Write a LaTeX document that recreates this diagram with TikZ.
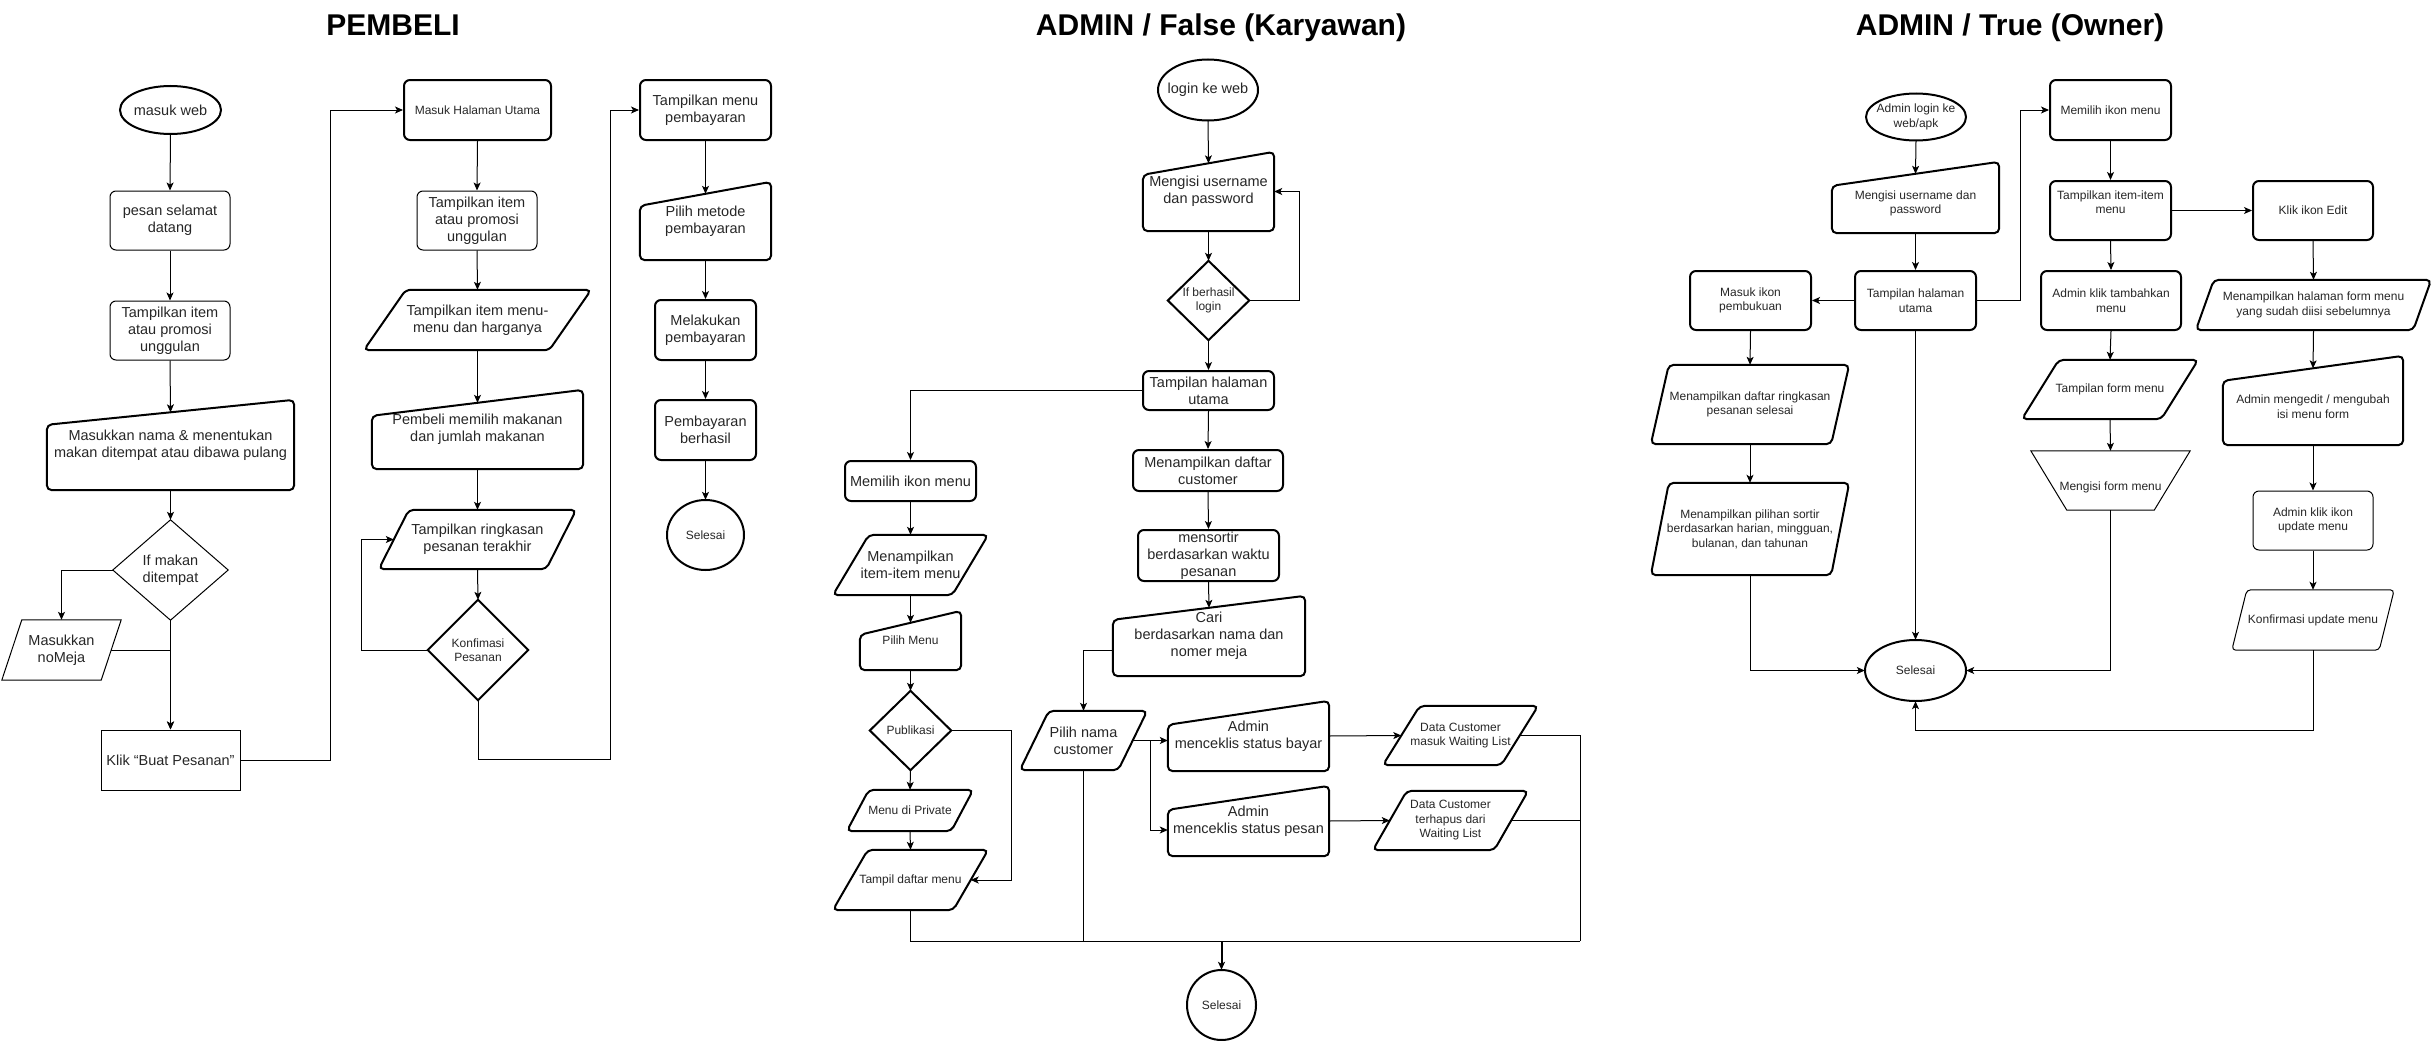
\documentclass[tikz,border=0pt]{standalone}
\usepackage{fontspec}
\setmainfont{Liberation Sans}
\usetikzlibrary{arrows.meta,calc}
\newcommand\shpPG[3][]{\draw[#1] ([xshift=#3]#2.north west) -- (#2.north east) -- ([xshift=-#3]#2.south east) -- (#2.south west) -- cycle;}
\newcommand\shpMI[3][]{\draw[#1] ([yshift=-#3]#2.north west) -- (#2.north east) -- (#2.south east) -- (#2.south west) -- cycle;}
\newcommand\shpMO[3][]{\draw[#1] (#2.north west) -- (#2.north east) -- ([xshift=-#3]#2.south east) -- ([xshift=#3]#2.south west) -- cycle;}
\newcommand\shpDM[2][]{\draw[#1] (#2.north) -- (#2.east) -- (#2.south) -- (#2.west) -- cycle;}
\begin{document}
\begin{tikzpicture}[x=1pt,y=-1pt,
  txt/.style={draw=none, inner sep=0pt, align=center, text=black!85, font=\fontsize{14.5}{17}\selectfont},
  sm/.style={font=\fontsize{12}{14.5}\selectfont},
  wh/.style 2 args={minimum width=#1pt, minimum height=#2pt},
  thk/.style={line width=2pt, rounded corners=5pt},
  thn/.style={line width=1pt, rounded corners=4pt},
  dmk/.style={line width=2pt},
  dmn/.style={line width=1pt},
  rb/.style={txt, rounded corners=6pt, line width=2pt, draw=black},
  rbt/.style={txt, rounded corners=6pt, line width=1pt, draw=black},
  conn/.style={line width=1pt, -{Stealth[length=8pt,width=7pt,inset=2pt]}},
  ln/.style={line width=1pt},
  ttl/.style={inner sep=0pt, anchor=base, font=\fontsize{30}{34}\selectfont\bfseries}
]
\useasboundingbox (0,0) rectangle (2433,1041);

% titles
\node[ttl] (t1) at (393,35.5) {PEMBELI};
\node[ttl] (t2) at (1221,35.5) {ADMIN / False (Karyawan)};
\node[ttl] (t3) at (2010,35.5) {ADMIN / True (Owner)};

% ================= PEMBELI =================
\node[txt, wh={101}{48}] (p1) at (170.5,110) {masuk web};
\draw[thk] (p1.center) ellipse [x radius=50.5pt, y radius=24pt];
\node[rbt, wh={120}{59}] (p2) at (170,220.5) {pesan selamat\\datang};
\node[rbt, wh={120}{59}] (p3) at (170,330.5) {Tampilkan item\\atau promosi\\unggulan};
\node[txt, wh={247}{90}] (p4) at (170.5,445) {Masukkan nama \& menentukan\\makan ditempat atau dibawa pulang};
\shpMI[thk]{p4}{25pt}
\node[txt, wh={115}{100}] (p5) at (170.5,570) {If makan\\ditempat};
\shpDM[dmn]{p5}
\node[txt, wh={119}{60}] (p6) at (61.5,650) {Masukkan\\noMeja};
\shpPG[dmn]{p6}{20pt}
\node[txt, draw, line width=1pt, wh={139}{60}] (p7) at (170.5,760) {Klik “Buat Pesanan”};

\node[rb, sm, wh={147}{60}] (p8) at (477.5,110) {Masuk Halaman Utama};
\node[rbt, wh={120}{59}] (p9) at (477,220.5) {Tampilkan item\\atau promosi\\unggulan};
\node[txt, wh={227}{60}] (p10) at (477.5,320) {Tampilkan item menu-\\menu dan harganya};
\shpPG[thk]{p10}{42pt}
\node[txt, wh={211}{79}] (p11) at (477.5,429.5) {Pembeli memilih makanan\\dan jumlah makanan};
\shpMI[thk]{p11}{26pt}
\node[txt, wh={197}{59}] (p12) at (477.5,539.5) {Tampilkan ringkasan\\pesanan terakhir};
\shpPG[thk]{p12}{30pt}
\node[txt, sm, wh={100}{100}] (p13) at (478,650) {Konfimasi\\Pesanan};
\shpDM[dmk]{p13}
\node[rb, wh={131}{60}] (p14) at (705.5,110) {Tampilkan menu\\pembayaran};
\node[txt, wh={131}{78}] (p15) at (705.5,221) {Pilih metode\\pembayaran};
\shpMI[thk]{p15}{24pt}
\node[rb, wh={101}{60}] (p16) at (705.5,330) {Melakukan\\pembayaran};
\node[rb, wh={101}{60}] (p17) at (705.5,430) {Pembayaran\\berhasil};
\node[txt, sm, wh={77}{70}] (p18) at (705.5,535) {Selesai};
\draw[thk] (p18.center) ellipse [x radius=38.5pt, y radius=35pt];

\draw[conn] (p1.south) -- (p2.north);
\draw[conn] (p2.south) -- (p3.north);
\draw[conn] (p3.south) -- ([yshift=-12.5pt]p4.north);
\draw[conn] (p4.south) -- (p5.north);
\draw[conn] (p5.west) -| (p6.north);
\draw[conn] (p5.south) -- (p7.north);
\draw[conn] ([xshift=-10pt]p6.east) -| (p7.north);
\draw[conn] (p7.east) -- (330,760) |- (p8.west);
\draw[conn] (p8.south) -- (p9.north);
\draw[conn] (p9.south) -- (p10.north);
\draw[conn] (p10.south) -- ([yshift=-13pt]p11.north);
\draw[conn] (p11.south) -- (p12.north);
\draw[conn] (p12.south) -- (p13.north);
\draw[conn] (p13.west) -- (361,650) |- ([xshift=15pt]p12.west);
\draw[conn] (p13.south) |- (610,759) |- (p14.west);
\draw[conn] (p14.south) -- ([yshift=-12pt]p15.north);
\draw[conn] (p15.south) -- (p16.north);
\draw[conn] (p16.south) -- (p17.north);
\draw[conn] (p17.south) -- (p18.north);

% ================= KARYAWAN =================
\node[txt, wh={100}{61}] (k1) at (1208,90) {login ke web};
\draw[thk] (k1.center) ellipse [x radius=50pt, y radius=30.5pt];
\node[txt, wh={131}{79}] (k2) at (1208.5,191.5) {Mengisi username\\dan password};
\shpMI[thk]{k2}{23pt}
\node[txt, sm, wh={81}{79}] (k3) at (1208.5,300.5) {If berhasil\\login};
\shpDM[dmk]{k3}
\node[rb, wh={131}{39}] (k4) at (1208.5,390.5) {Tampilan halaman\\utama};
\node[rb, wh={131}{40}] (k5) at (910.5,481) {Memilih ikon menu};
\node[txt, wh={155}{60}] (k6) at (910.5,565) {Menampilkan\\item-item menu};
\shpPG[thk]{k6}{36pt}
\node[txt, sm, wh={101}{59}] (k7) at (910.5,640.5) {Pilih Menu};
\shpMI[thk]{k7}{24pt}
\node[txt, sm, wh={81}{79}] (k8) at (910.5,730.5) {Publikasi};
\shpDM[dmk]{k8}
\node[txt, sm, wh={126}{41}] (k9) at (910,810.5) {Menu di Private};
\shpPG[thk]{k9}{22pt}
\node[txt, sm, wh={155}{60}] (k10) at (910.5,880) {Tampil daftar menu};
\shpPG[thk]{k10}{35pt}
\node[rb, wh={150}{41}] (k11) at (1208,470.5) {Menampilkan daftar\\customer};
\node[rb, wh={141}{51}] (k12) at (1208.5,555.5) {mensortir\\berdasarkan waktu\\pesanan};
\node[txt, wh={192}{80}] (k13) at (1209,636) {Cari\\berdasarkan nama dan\\nomer meja};
\shpMI[thk]{k13}{24pt}
\node[txt, wh={127}{59}] (k14) at (1083.5,740.5) {Pilih nama\\customer};
\shpPG[thk]{k14}{29pt}
\node[txt, wh={161}{70}] (k15) at (1248.5,736) {Admin\\menceklis status bayar};
\shpMI[thk]{k15}{24pt}
\node[txt, wh={161}{70}] (k16) at (1248.5,821) {Admin\\menceklis status pesan};
\shpMI[thk]{k16}{24pt}
\node[txt, sm, wh={155}{59}] (k17) at (1460.5,735.5) {Data Customer\\masuk Waiting List};
\shpPG[thk]{k17}{37pt}
\node[txt, sm, wh={155}{59}] (k18) at (1450.5,820.5) {Data Customer\\terhapus dari\\Waiting List};
\shpPG[thk]{k18}{34pt}
\node[txt, sm, wh={69}{70}] (k19) at (1221.5,1005) {Selesai};
\draw[thk] (k19.center) ellipse [x radius=34.5pt, y radius=35pt];
\coordinate (j1) at (1150,740.5);
\coordinate (bus) at (1221.5,941);

\draw[conn] (k1.south) -- ([yshift=-11.5pt]k2.north);
\draw[conn] (k2.south) -- (k3.north);
\draw[conn] (k3.east) -- (1299,300.5) |- (k2.east);
\draw[conn] (k3.south) -- (k4.north);
\draw[conn] (k4.west) -| (k5.north);
\draw[conn] (k5.south) -- (k6.north);
\draw[conn] (k6.south) -- ([yshift=-12pt]k7.north);
\draw[conn] (k7.south) -- (k8.north);
\draw[conn] (k8.south) -- (k9.north);
\draw[conn] (k9.south) -- (k10.north);
\draw[conn] (k8.east) -- (1011,730.5) |- ([xshift=-17.5pt]k10.east);
\draw[conn] (k4.south) -- (k11.north);
\draw[conn] (k11.south) -- (k12.north);
\draw[conn] (k12.south) -- ([yshift=-12pt]k13.north);
\draw[conn] ([yshift=-14pt]k13.west) -| (k14.north);
\draw[conn] ([xshift=-14.5pt]k14.east) -- (k15.west |- k14.east);
\draw[conn] (j1) |- ([yshift=-9pt]k16.west);
\draw[conn] (k15.east) -- ([xshift=18.5pt]k17.west);
\draw[conn] (k16.east) -- ([xshift=17pt]k18.west);
\draw[ln] (k10.south) |- (1580,941);
\draw[ln] ([xshift=-18.5pt]k17.east) -| (1580,941);
\draw[ln] ([xshift=-17pt]k18.east) -- (1580,820.5);
\draw[ln] (k14.south) -- (k14.south |- bus);
\draw[conn, line width=2pt] (bus) -- (k19.north);

% ================= OWNER =================
\node[txt, sm, wh={100}{47}] (a1) at (1916,117) {Admin login ke\\web/apk};
\draw[thk] (a1.center) ellipse [x radius=50pt, y radius=23.5pt];
\node[txt, wh={167}{71}] (a2) at (1915.5,197.5) {};
\shpMI[thk]{a2}{24pt}
\node[txt, sm] (a2t) at ([yshift=-6pt]a2.center) {Mengisi username dan\\password};
\node[rb, sm, wh={121}{59}] (a3) at (1915.5,300.5) {Tampilan halaman\\utama};
\node[rb, sm, wh={121}{59}] (a4) at (1750.5,300.5) {Masuk ikon\\pembukuan};
\node[txt, sm, wh={198}{79}] (a5) at (1750,404.5) {Menampilkan daftar ringkasan\\pesanan selesai};
\shpPG[thk]{a5}{18pt}
\node[txt, sm, wh={198}{92}] (a6) at (1750,529) {Menampilkan pilihan sortir\\berdasarkan harian, mingguan,\\bulanan, dan tahunan};
\shpPG[thk]{a6}{18pt}
\node[txt, sm, wh={101}{61}] (a7) at (1915.5,670.5) {Selesai};
\draw[thk] (a7.center) ellipse [x radius=50.5pt, y radius=30.5pt];
\node[rb, sm, wh={121}{60}] (a8) at (2110.5,110) {Memilih ikon menu};
\node[rb, wh={121}{59}] (a9) at (2110.5,210.5) {};
\node[txt, sm] (a9t) at ([yshift=8.5pt]a9.center) {Tampilkan item-item\\menu};
\node[rb, sm, wh={120}{59}] (a10) at (2313,210.5) {Klik ikon Edit};
\node[rb, sm, wh={140}{59}] (a11) at (2111,300.5) {Admin klik tambahkan\\menu};
\node[txt, sm, wh={176}{59}] (a12) at (2110,389.5) {Tampilan form menu};
\shpPG[thk]{a12}{37pt}
\node[txt, wh={159}{59}] (a13) at (2110.5,480.5) {};
\shpMO[dmn]{a13}{36pt}
\node[txt, sm] (a13t) at ([yshift=-6.5pt]a13.center) {Mengisi form menu};
\node[txt, sm, wh={235}{50}] (a14) at (2313.5,305) {Menampilkan halaman form menu\\yang sudah diisi sebelumnya};
\shpPG[thk]{a14}{18pt}
\node[txt, wh={180}{89}] (a15) at (2313,400.5) {};
\shpMI[thk]{a15}{25pt}
\node[txt, sm] (a15t) at ([yshift=-6pt]a15.center) {Admin mengedit / mengubah\\isi menu form};
\node[rbt, sm, wh={120}{59}] (a16) at (2313,520.5) {Admin klik ikon\\update menu};
\node[txt, sm, wh={162}{60}] (a17) at (2313,620) {Konfirmasi update menu};
\shpPG[thn]{a17}{15pt}

\draw[conn] (a1.south) -- ([yshift=-12pt]a2.north);
\draw[conn] (a2.south) -- (a3.north);
\draw[conn] (a3.west) -- (a4.east);
\draw[conn] (a4.south) -- (a5.north);
\draw[conn] (a5.south) -- (a6.north);
\draw[conn] (a6.south) |- (a7.west);
\draw[conn] (a3.south) -- (a7.north);
\draw[conn] (a3.east) -- (2020,300.5) |- (a8.west);
\draw[conn] (a8.south) -- (a9.north);
\draw[conn] (a9.east) -- (a10.west);
\draw[conn] (a9.south) -- (a11.north);
\draw[conn] (a11.south) -- (a12.north);
\draw[conn] (a12.south) -- (a13.north);
\draw[conn] (a13.south) |- (a7.east);
\draw[conn] (a10.south) -- (a14.north);
\draw[conn] (a14.south) -- ([yshift=-12.5pt]a15.north);
\draw[conn] (a15.south) -- (a16.north);
\draw[conn] (a16.south) -- (a17.north);
\draw[conn] (a17.south) -- (2313,730) -| (a7.south);
\end{tikzpicture}
\end{document}
